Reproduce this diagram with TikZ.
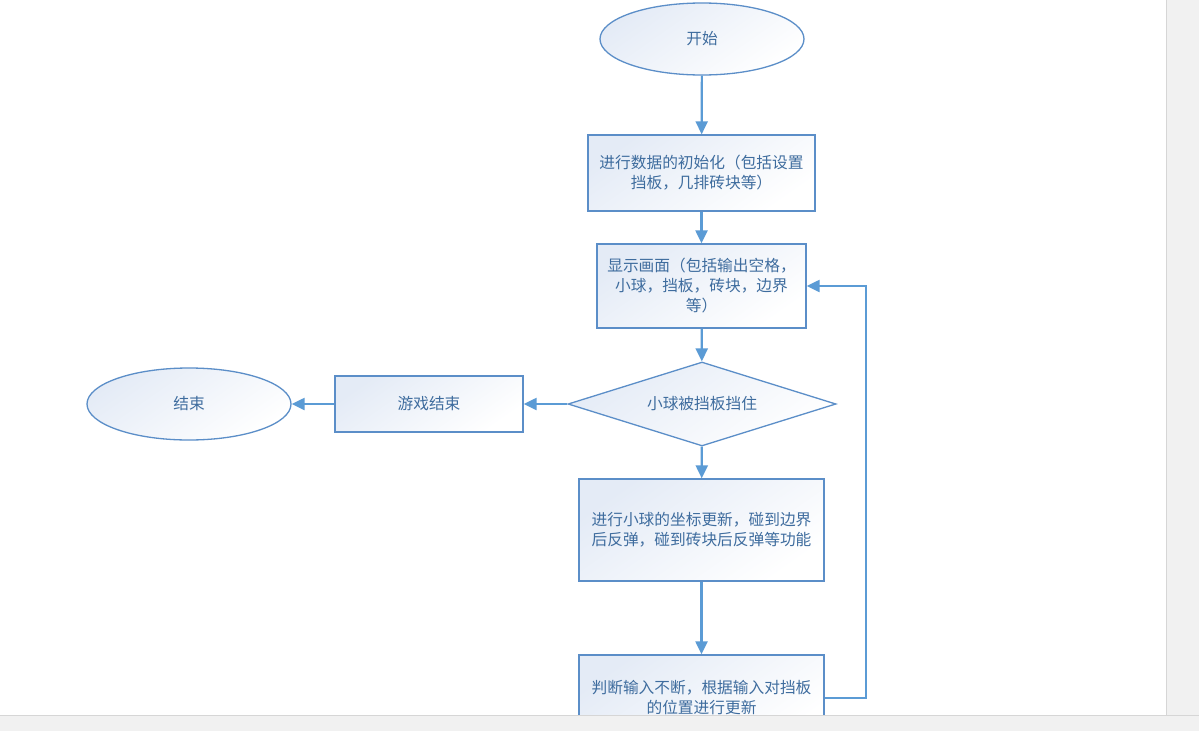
\documentclass[tikz,border=0pt]{standalone}
\usepackage{fontspec}
\setmainfont{Noto Sans CJK SC}
\usetikzlibrary{shapes.geometric,arrows.meta}
\definecolor{edgeblue}{HTML}{5B8EC8}
\definecolor{arrowblue}{HTML}{5B9BD5}
\definecolor{txtblue}{HTML}{3E6C9E}
\definecolor{fillA}{HTML}{E4EBF6}
\definecolor{stripgrey}{HTML}{F1F1F1}
\definecolor{stripline}{HTML}{D6D6D6}
\tikzset{
  base/.style={draw=edgeblue, line width=1.3pt, text=txtblue, font=\fontsize{15.7pt}{20pt}\selectfont,
    top color=fillA, bottom color=white, shading angle=35, inner sep=0pt, align=center},
  term/.style={base, ellipse, minimum width=204pt, minimum height=72pt},
  proc/.style={base, rectangle},
  dec/.style={base, diamond, minimum width=268pt, minimum height=84pt, aspect=3.2},
  flow/.style={draw=arrowblue, line width=2.2pt, -{Triangle[length=13pt,width=12pt]}},
}
\begin{document}
\begin{tikzpicture}[x=1pt,y=-1pt]
\fill[white] (0,0) rectangle (1199,731);
\useasboundingbox (0,0) rectangle (1199,731);
\begin{scope}
\clip (0,0) rectangle (1166,715);
\node[term] (start) at (702,39) {开始};
\node[proc, minimum width=227pt, minimum height=76pt] (init) at (701.5,173) {进行数据的初始化（包括设置\\挡板，几排砖块等）};
\node[proc, minimum width=209pt, minimum height=84pt] (show) at (701.5,286) {显示画面（包括输出空格，\\小球，挡板，砖块，边界\\等）};
\node[dec] (check) at (702,404) {小球被挡板挡住};
\node[proc, minimum width=188pt, minimum height=56pt] (over) at (429,404) {游戏结束};
\node[term] (end) at (189,404) {结束};
\node[proc, minimum width=245pt, minimum height=102pt] (move) at (701.5,530) {进行小球的坐标更新，碰到边界\\后反弹，碰到砖块后反弹等功能};
\node[proc, minimum width=245pt, minimum height=86pt] (input) at (701.5,698) {判断输入不断，根据输入对挡板\\的位置进行更新};
\coordinate (c1) at (866,698);
\coordinate (c2) at (866,286);
\draw[flow] (start) -- (init);
\draw[flow] (init) -- (show);
\draw[flow] (show) -- (check);
\draw[flow] (check) -- (over);
\draw[flow] (over) -- (end);
\draw[flow] (check) -- (move);
\draw[flow] (move) -- (input);
\draw[flow] (input.east) -- (c1) -- (c2) -- (show.east);
\end{scope}
\fill[stripgrey] (1166,0) rectangle (1199,731);
\fill[stripgrey] (0,715) rectangle (1199,731);
\draw[stripline, line width=1.2pt] (1166.5,0) -- (1166.5,715);
\draw[stripline, line width=1.2pt] (0,715.5) -- (1199,715.5);
\end{tikzpicture}
\end{document}
